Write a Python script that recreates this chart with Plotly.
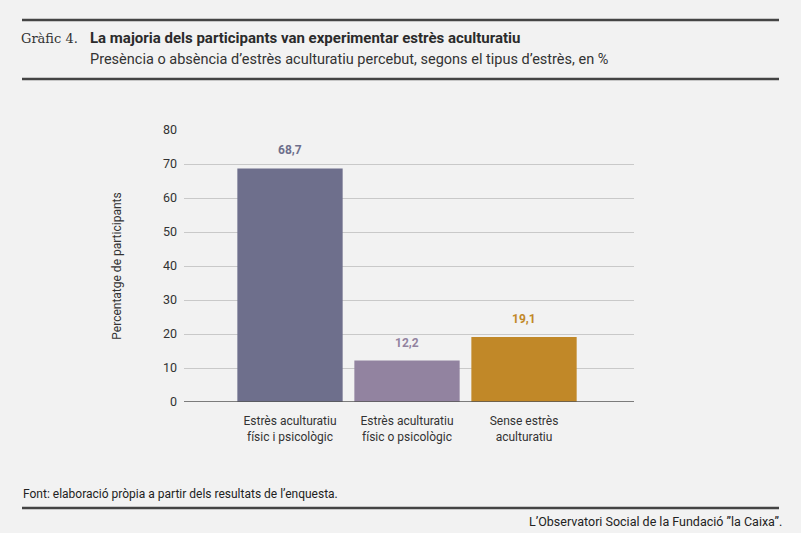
import plotly.graph_objects as go

# dades del gràfic
categories = ["Estrès aculturatiu<br>físic i psicològic",
              "Estrès aculturatiu<br>físic o psicològic",
              "Sense estrès<br>aculturatiu"]
values = [68.7, 12.2, 19.1]
value_labels = ["68,7", "12,2", "19,1"]
colors = ["#6e6f8c", "#9283a0", "#c18828"]
y_ticks = [0, 10, 20, 30, 40, 50, 60, 70, 80]

FONT = "Roboto"


def px_x(x):
    return (x - 184) / 450


def px_y(y):
    return (402 - y) / 272


fig = go.Figure()
fig.add_bar(
    x=list(range(len(categories))),
    y=values,
    width=0.9,
    marker=dict(color=colors, line=dict(width=0)),
    hoverinfo="skip",
)

# etiquetes de valor sobre les barres
for i, (v, lab, c) in enumerate(zip(values, value_labels, colors)):
    fig.add_annotation(x=i, y=v, text="<b>" + lab + "</b>", showarrow=False,
                       yshift=18, font=dict(family=FONT, size=12, color=c))

fig.update_xaxes(
    range=[-0.906, 2.94],
    tickvals=list(range(len(categories))),
    ticktext=categories,
    tickfont=dict(family=FONT, size=12, color="#333333"),
    showgrid=False, zeroline=False, showline=False, ticks="",
    ticklabelstandoff=10,
)
fig.update_yaxes(
    range=[0, 80],
    tickvals=y_ticks,
    tickfont=dict(family=FONT, size=12.5, color="#333333"),
    showgrid=True, gridcolor="#c9c9c9", gridwidth=1,
    zeroline=False, showline=False, ticks="",
    ticklabelstandoff=6,
    title=dict(text="Percentatge de participants",
               font=dict(family=FONT, size=12, color="#333333"), standoff=38),
)

# línia de base
fig.add_shape(type="line", xref="paper", yref="y", x0=0, x1=1, y0=0, y1=0,
              line=dict(color="#555555", width=1.5))

# línies de capçalera i peu
for yy in [20, 79, 508]:
    fig.add_shape(type="line", xref="paper", yref="paper",
                  x0=px_x(22), x1=px_x(779), y0=px_y(yy), y1=px_y(yy),
                  line=dict(color="#444444", width=2.5))

fig.add_annotation(xref="paper", yref="paper", x=px_x(19), y=px_y(38),
                   text="Gràfic 4.", showarrow=False, xanchor="left", yanchor="middle",
                   font=dict(family="DejaVu Serif", size=13, color="#333333"))
fig.add_annotation(xref="paper", yref="paper", x=px_x(88), y=px_y(38),
                   text="<b>La majoria dels participants van experimentar estrès aculturatiu</b>",
                   showarrow=False, xanchor="left", yanchor="middle",
                   font=dict(family=FONT, size=15, color="#2b2b2b"))
fig.add_annotation(xref="paper", yref="paper", x=px_x(88), y=px_y(59),
                   text="Presència o absència d’estrès aculturatiu percebut, segons el tipus d’estrès, en %",
                   showarrow=False, xanchor="left", yanchor="middle",
                   font=dict(family=FONT, size=14.5, color="#333333"))
fig.add_annotation(xref="paper", yref="paper", x=px_x(21), y=px_y(494),
                   text="Font: elaboració pròpia a partir dels resultats de l’enquesta.",
                   showarrow=False, xanchor="left", yanchor="middle",
                   font=dict(family=FONT, size=12, color="#222222"))
fig.add_annotation(xref="paper", yref="paper", x=px_x(784), y=px_y(521),
                   text="L’Observatori Social de la Fundació ”la Caixa”.",
                   showarrow=False, xanchor="right", yanchor="middle",
                   font=dict(family=FONT, size=12.5, color="#222222"))

fig.update_layout(
    width=801, height=533,
    margin=dict(l=184, r=167, t=130, b=131),
    paper_bgcolor="#f2f2f2", plot_bgcolor="#f2f2f2",
    showlegend=False,
)

# treure el marge per defecte del body perquè la figura comenci a (0, 0)
fig.write_html("out.html",
               config={"displayModeBar": False},
               post_script="document.body.style.margin='0';"
                           "document.body.style.background='#f2f2f2';")
